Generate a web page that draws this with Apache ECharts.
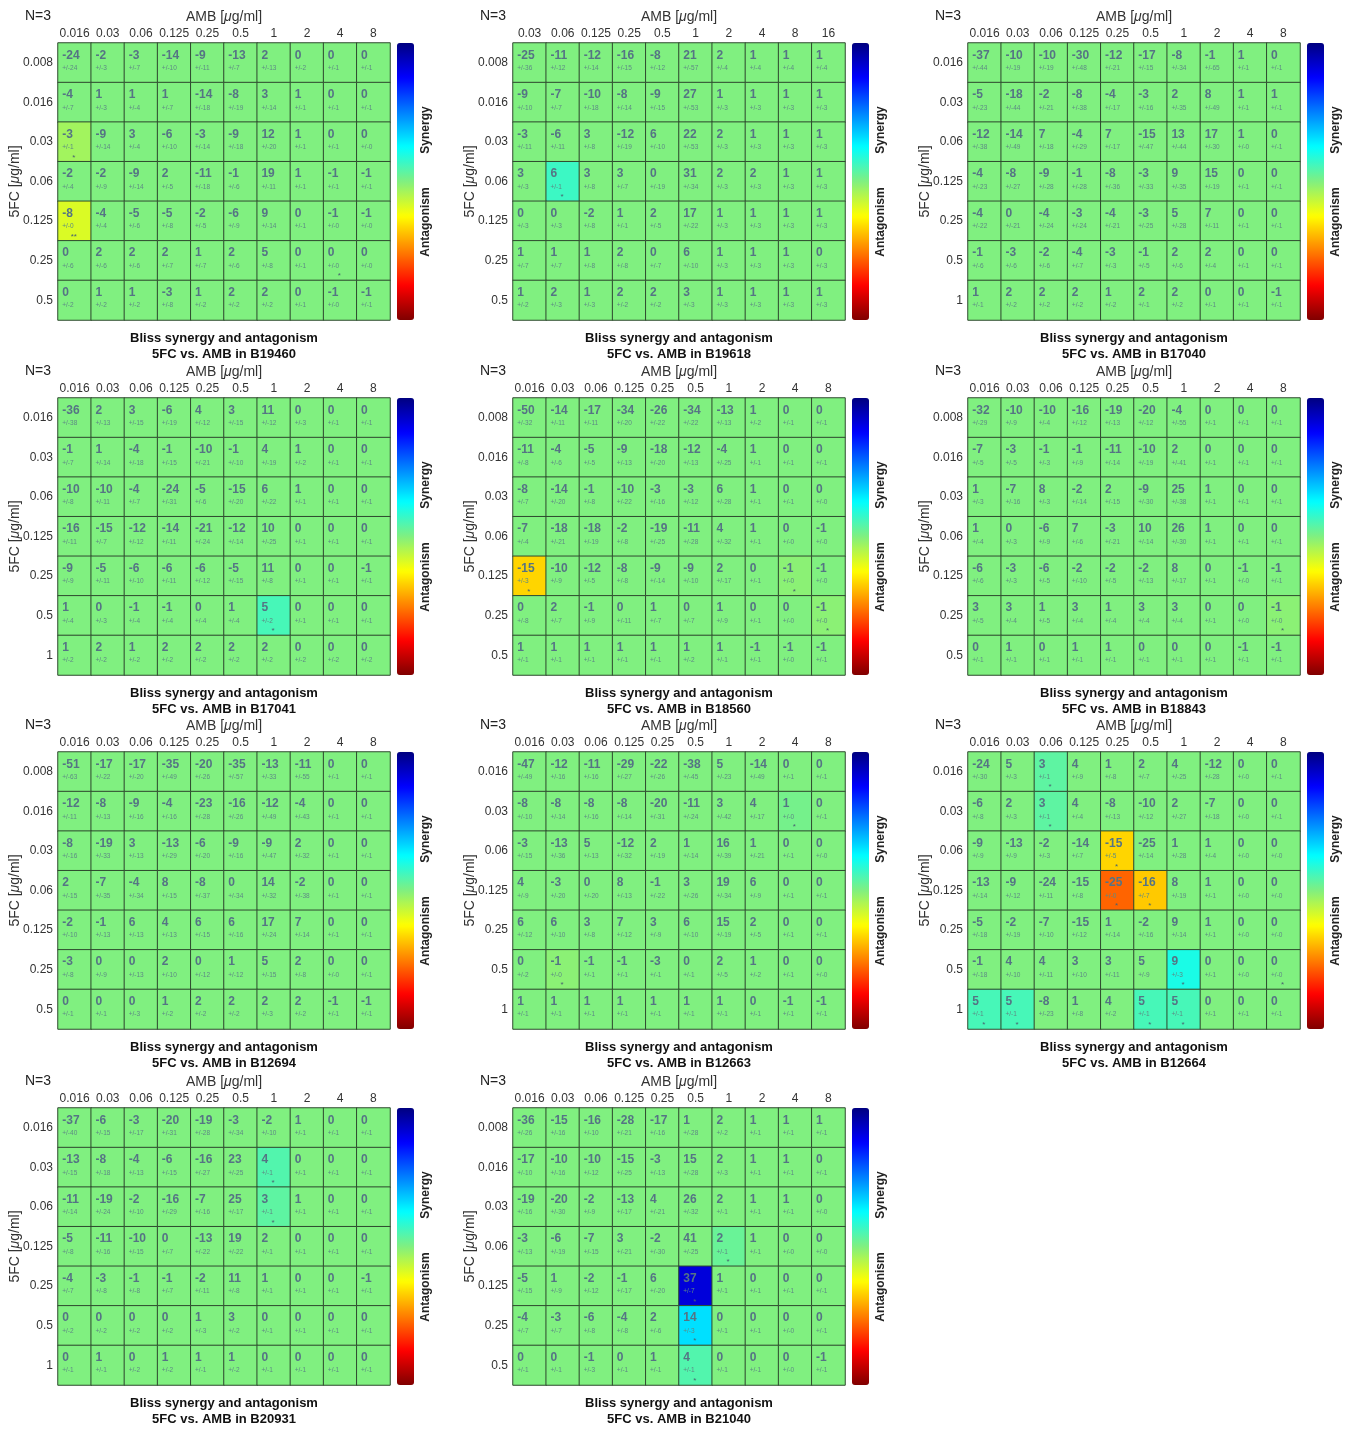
<!DOCTYPE html>
<html>
<head>
<meta charset="utf-8">
<script src="https://cdn.jsdelivr.net/npm/echarts@6/dist/echarts.min.js"></script>
<style>
  html, body { margin: 0; background: #fff; }
  #main { width: 1351px; height: 1429px; }
</style>
</head>
<body>
<div id="main"></div>
<script>
// tick labels
const ambA = ['0.016', '0.03', '0.06', '0.125', '0.25', '0.5', '1', '2', '4', '8'];
const ambB = ['0.03', '0.06', '0.125', '0.25', '0.5', '1', '2', '4', '8', '16'];
const fcA = ['0.008', '0.016', '0.03', '0.06', '0.125', '0.25', '0.5'];
const fcB = ['0.016', '0.03', '0.06', '0.125', '0.25', '0.5', '1'];

// Bliss values (rows = 5FC, cols = AMB), standard deviations, significant cells [row, col, mark]
const valB19460 = [
  [-24, -2, -3, -14, -9, -13, 2, 0, 0, 0],
  [-4, 1, 1, 1, -14, -8, 3, 1, 0, 0],
  [-3, -9, 3, -6, -3, -9, 12, 1, 0, 0],
  [-2, -2, -9, 2, -11, -1, 19, 1, -1, -1],
  [-8, -4, -5, -5, -2, -6, 9, 0, -1, -1],
  [0, 2, 2, 2, 1, 2, 5, 0, 0, 0],
  [0, 1, 1, -3, 1, 2, 2, 0, -1, -1]
];
const stdB19460 = [
  [24, 3, 7, 10, 11, 7, 13, 2, 1, 1],
  [7, 3, 4, 7, 18, 19, 14, 1, 1, 1],
  [1, 14, 4, 10, 14, 18, 20, 1, 1, 0],
  [4, 9, 14, 5, 18, 6, 11, 1, 1, 1],
  [0, 4, 6, 8, 5, 9, 14, 1, 0, 0],
  [6, 6, 6, 7, 7, 6, 8, 1, 0, 0],
  [2, 2, 2, 8, 2, 2, 2, 1, 0, 1]
];
const sigB19460 = [[2, 0, '*'], [4, 0, '**'], [5, 8, '*']];

const valB19618 = [
  [-25, -11, -12, -16, -8, 21, 2, 1, 1, 1],
  [-9, -7, -10, -8, -9, 27, 1, 1, 1, 1],
  [-3, -6, 3, -12, 6, 22, 2, 1, 1, 1],
  [3, 6, 3, 3, 0, 31, 2, 2, 1, 1],
  [0, 0, -2, 1, 2, 17, 1, 1, 1, 1],
  [1, 1, 1, 2, 0, 6, 1, 1, 1, 0],
  [1, 2, 1, 2, 2, 3, 1, 1, 1, 1]
];
const stdB19618 = [
  [36, 12, 14, 15, 12, 57, 4, 4, 4, 4],
  [10, 7, 18, 14, 15, 53, 3, 3, 3, 3],
  [11, 11, 8, 19, 10, 53, 3, 3, 3, 3],
  [3, 1, 8, 7, 19, 34, 3, 3, 3, 3],
  [3, 3, 8, 1, 5, 22, 3, 3, 3, 3],
  [7, 7, 8, 8, 7, 10, 3, 3, 3, 3],
  [2, 3, 3, 2, 2, 3, 3, 3, 3, 3]
];
const sigB19618 = [[3, 1, '*']];

const valB17040 = [
  [-37, -10, -10, -30, -12, -17, -8, -1, 1, 0],
  [-5, -18, -2, -8, -4, -3, 2, 8, 1, 1],
  [-12, -14, 7, -4, 7, -15, 13, 17, 1, 0],
  [-4, -8, -9, -1, -8, -3, 9, 15, 0, 0],
  [-4, 0, -4, -3, -4, -3, 5, 7, 0, 0],
  [-1, -3, -2, -4, -3, -1, 2, 2, 0, 0],
  [1, 2, 2, 2, 1, 2, 2, 0, 0, -1]
];
const stdB17040 = [
  [44, 19, 19, 48, 21, 15, 34, 65, 1, 1],
  [23, 44, 21, 38, 17, 16, 35, 49, 1, 1],
  [38, 49, 18, 29, 17, 47, 44, 30, 0, 1],
  [23, 27, 28, 28, 36, 33, 35, 19, 1, 1],
  [22, 21, 24, 24, 21, 25, 28, 11, 1, 1],
  [6, 6, 6, 7, 3, 5, 6, 4, 1, 1],
  [1, 2, 2, 2, 2, 1, 2, 1, 1, 1]
];
const sigB17040 = [];

const valB17041 = [
  [-36, 2, 3, -6, 4, 3, 11, 0, 0, 0],
  [-1, 1, -4, -1, -10, -1, 4, 1, 0, 0],
  [-10, -10, -4, -24, -5, -15, 6, 1, 0, 0],
  [-16, -15, -12, -14, -21, -12, 10, 0, 0, 0],
  [-9, -5, -6, -6, -6, -5, 11, 0, 0, -1],
  [1, 0, -1, -1, 0, 1, 5, 0, 0, 0],
  [1, 2, 1, 2, 2, 2, 2, 0, 0, 0]
];
const stdB17041 = [
  [38, 13, 15, 19, 12, 15, 12, 3, 1, 1],
  [7, 14, 18, 15, 21, 10, 19, 2, 1, 1],
  [8, 11, 7, 31, 6, 20, 22, 1, 1, 1],
  [11, 7, 12, 11, 24, 14, 25, 1, 1, 1],
  [9, 11, 10, 11, 12, 15, 8, 1, 1, 1],
  [4, 3, 4, 4, 4, 4, 2, 1, 1, 1],
  [2, 2, 2, 2, 2, 2, 2, 2, 2, 2]
];
const sigB17041 = [[5, 6, '*']];

const valB18560 = [
  [-50, -14, -17, -34, -26, -34, -13, 1, 0, 0],
  [-11, -4, -5, -9, -18, -12, -4, 1, 0, 0],
  [-8, -14, -1, -10, -3, -3, 6, 1, 0, 0],
  [-7, -18, -18, -2, -19, -11, 4, 1, 0, -1],
  [-15, -10, -12, -8, -9, -9, 2, 0, -1, -1],
  [0, 2, -1, 0, 1, 0, 1, 0, 0, -1],
  [1, 1, 1, 1, 1, 1, 1, -1, -1, -1]
];
const stdB18560 = [
  [32, 11, 11, 20, 22, 22, 13, 2, 1, 1],
  [8, 6, 5, 13, 20, 13, 25, 1, 1, 1],
  [7, 20, 8, 22, 16, 12, 28, 1, 1, 0],
  [4, 21, 19, 8, 25, 28, 32, 1, 0, 0],
  [3, 9, 5, 8, 14, 10, 17, 1, 0, 0],
  [8, 7, 9, 11, 7, 7, 9, 1, 0, 0],
  [1, 1, 1, 1, 1, 2, 1, 1, 0, 1]
];
const sigB18560 = [[4, 0, '*'], [4, 8, '*'], [5, 9, '*']];

const valB18843 = [
  [-32, -10, -10, -16, -19, -20, -4, 0, 0, 0],
  [-7, -3, -1, -1, -11, -10, 2, 0, 0, 0],
  [1, -7, 8, -2, 2, -9, 25, 1, 0, 0],
  [1, 0, -6, 7, -3, 10, 26, 1, 0, 0],
  [-6, -3, -6, -2, -2, -2, 8, 0, -1, -1],
  [3, 3, 1, 3, 1, 3, 3, 0, 0, -1],
  [0, 1, 0, 1, 1, 0, 0, 0, -1, -1]
];
const stdB18843 = [
  [29, 9, 4, 12, 13, 12, 55, 1, 1, 1],
  [5, 5, 3, 9, 14, 19, 41, 1, 1, 1],
  [3, 16, 3, 14, 15, 30, 38, 1, 1, 1],
  [4, 3, 9, 6, 21, 14, 30, 1, 1, 1],
  [6, 3, 5, 10, 5, 13, 17, 1, 0, 1],
  [5, 4, 5, 4, 4, 4, 4, 1, 0, 0],
  [1, 1, 1, 1, 1, 1, 1, 1, 1, 1]
];
const sigB18843 = [[5, 9, '*']];

const valB12694 = [
  [-51, -17, -17, -35, -20, -35, -13, -11, 0, 0],
  [-12, -8, -9, -4, -23, -16, -12, -4, 0, 0],
  [-8, -19, 3, -13, -6, -9, -9, 2, 0, 0],
  [2, -7, -4, 8, -8, 0, 14, -2, 0, 0],
  [-2, -1, 6, 4, 6, 6, 17, 7, 0, 0],
  [-3, 0, 0, 2, 0, 1, 5, 2, 0, 0],
  [0, 0, 0, 1, 2, 2, 2, 2, -1, -1]
];
const stdB12694 = [
  [63, 22, 20, 49, 26, 57, 33, 55, 1, 1],
  [11, 13, 16, 16, 28, 26, 49, 43, 1, 1],
  [16, 33, 13, 29, 20, 16, 47, 32, 1, 1],
  [15, 35, 34, 15, 37, 34, 32, 38, 1, 1],
  [10, 13, 13, 13, 15, 16, 24, 14, 1, 1],
  [8, 9, 13, 10, 12, 12, 15, 8, 0, 1],
  [1, 1, 3, 2, 2, 2, 3, 2, 1, 1]
];
const sigB12694 = [];

const valB12663 = [
  [-47, -12, -11, -29, -22, -38, 5, -14, 0, 0],
  [-8, -8, -8, -8, -20, -11, 3, 4, 1, 0],
  [-3, -13, 5, -12, 2, 1, 16, 1, 0, 0],
  [4, -3, 0, 8, -1, 3, 19, 6, 0, 0],
  [6, 6, 3, 7, 3, 6, 15, 2, 0, 0],
  [0, -1, -1, -1, -3, 0, 2, 1, 0, 0],
  [1, 1, 1, 1, 1, 1, 1, 0, -1, -1]
];
const stdB12663 = [
  [49, 16, 16, 27, 26, 45, 23, 49, 1, 1],
  [10, 14, 16, 14, 31, 24, 42, 17, 0, 1],
  [15, 36, 13, 32, 19, 14, 39, 21, 1, 0],
  [9, 20, 20, 13, 22, 26, 34, 9, 1, 1],
  [12, 10, 8, 12, 9, 10, 19, 5, 1, 1],
  [2, 0, 1, 1, 1, 1, 5, 2, 1, 0],
  [1, 1, 1, 1, 1, 1, 1, 1, 1, 1]
];
const sigB12663 = [[1, 8, '*'], [5, 1, '*']];

const valB12664 = [
  [-24, 5, 3, 4, 1, 2, 4, -12, 0, 0],
  [-6, 2, 3, 4, -8, -10, 2, -7, 0, 0],
  [-9, -13, -2, -14, -15, -25, 1, 1, 0, 0],
  [-13, -9, -24, -15, -25, -16, 8, 1, 0, 0],
  [-5, -2, -7, -15, 1, -2, 9, 1, 0, 0],
  [-1, 4, 4, 3, 3, 5, 9, 0, 0, 0],
  [5, 5, -8, 1, 4, 5, 5, 0, 0, 0]
];
const stdB12664 = [
  [30, 3, 1, 9, 8, 7, 25, 28, 0, 1],
  [8, 3, 1, 4, 13, 12, 27, 18, 0, 1],
  [9, 9, 3, 7, 5, 14, 28, 4, 0, 0],
  [14, 12, 11, 8, 0, 7, 19, 1, 0, 0],
  [18, 19, 10, 12, 14, 16, 14, 1, 0, 0],
  [18, 10, 11, 10, 11, 9, 3, 1, 0, 0],
  [1, 1, 23, 8, 2, 1, 1, 1, 1, 1]
];
const sigB12664 = [[0, 2, '*'], [1, 2, '*'], [2, 4, '*'], [3, 4, '*'], [3, 5, '*'],
  [5, 6, '*'], [5, 9, '*'], [6, 0, '*'], [6, 1, '*'], [6, 5, '*'], [6, 6, '*']];

const valB20931 = [
  [-37, -6, -3, -20, -19, -3, -2, 1, 0, 0],
  [-13, -8, -4, -6, -16, 23, 4, 0, 0, 0],
  [-11, -19, -2, -16, -7, 25, 3, 1, 0, 0],
  [-5, -11, -10, 0, -13, 19, 2, 0, 0, 0],
  [-4, -3, -1, -1, -2, 11, 1, 0, 0, -1],
  [0, 0, 0, 0, 1, 3, 0, 0, 0, 0],
  [0, 1, 0, 1, 1, 1, 0, 0, 0, 0]
];
const stdB20931 = [
  [40, 15, 17, 31, 28, 34, 10, 1, 1, 1],
  [15, 18, 13, 15, 27, 25, 1, 1, 1, 1],
  [14, 24, 10, 29, 16, 17, 1, 1, 1, 1],
  [8, 16, 15, 7, 22, 22, 1, 1, 1, 1],
  [7, 8, 8, 7, 11, 8, 1, 1, 1, 1],
  [2, 2, 2, 2, 3, 2, 1, 1, 1, 1],
  [1, 1, 2, 2, 1, 2, 1, 1, 1, 1]
];
const sigB20931 = [[1, 6, '*'], [2, 6, '*']];

const valB21040 = [
  [-36, -15, -16, -28, -17, 1, 2, 1, 1, 1],
  [-17, -10, -10, -15, -3, 15, 2, 1, 1, 0],
  [-19, -20, -2, -13, 4, 26, 2, 1, 1, 0],
  [-3, -6, -7, 3, -2, 41, 2, 1, 0, 0],
  [-5, 1, -2, -1, 6, 37, 1, 0, 0, 0],
  [-4, -3, -6, -4, 2, 14, 0, 0, 0, 0],
  [0, 0, -1, 0, 1, 4, 0, 0, 0, -1]
];
const stdB21040 = [
  [26, 16, 10, 21, 16, 28, 2, 1, 1, 1],
  [10, 16, 12, 25, 13, 28, 3, 1, 1, 1],
  [16, 30, 9, 17, 21, 32, 1, 1, 1, 0],
  [13, 19, 15, 21, 30, 25, 1, 1, 0, 0],
  [15, 9, 12, 17, 20, 7, 1, 1, 1, 1],
  [7, 7, 8, 8, 6, 3, 1, 1, 0, 1],
  [1, 1, 3, 1, 1, 1, 1, 1, 0, 1]
];
const sigB21040 = [[3, 6, '*'], [4, 5, '*'], [5, 5, '*'], [6, 5, '*']];

const panels = [
  {strain: 'B19460', amb: ambA, fc: fcA, val: valB19460, std: stdB19460, sig: sigB19460},
  {strain: 'B19618', amb: ambB, fc: fcA, val: valB19618, std: stdB19618, sig: sigB19618},
  {strain: 'B17040', amb: ambA, fc: fcB, val: valB17040, std: stdB17040, sig: sigB17040},
  {strain: 'B17041', amb: ambA, fc: fcB, val: valB17041, std: stdB17041, sig: sigB17041},
  {strain: 'B18560', amb: ambA, fc: fcA, val: valB18560, std: stdB18560, sig: sigB18560},
  {strain: 'B18843', amb: ambA, fc: fcA, val: valB18843, std: stdB18843, sig: sigB18843},
  {strain: 'B12694', amb: ambA, fc: fcA, val: valB12694, std: stdB12694, sig: sigB12694},
  {strain: 'B12663', amb: ambA, fc: fcB, val: valB12663, std: stdB12663, sig: sigB12663},
  {strain: 'B12664', amb: ambA, fc: fcB, val: valB12664, std: stdB12664, sig: sigB12664},
  {strain: 'B20931', amb: ambA, fc: fcB, val: valB20931, std: stdB20931, sig: sigB20931},
  {strain: 'B21040', amb: ambA, fc: fcA, val: valB21040, std: stdB21040, sig: sigB21040}
];

// layout
const colLeft = [58, 513, 968];
const rowTop = [43, 398, 752, 1108];
const gw = 332, gh = 277;
const font = 'Arial, "Liberation Sans", sans-serif';
const jet = ['#800000', '#ff0000', '#ff8000', '#ffff00', '#80f080', '#00ffff', '#0080ff', '#0000ff', '#000080'];

const chart = echarts.init(document.getElementById('main'));

const grid = [], xAxis = [], yAxis = [], series = [], visualMap = [], graphic = [];

panels.forEach((p, i) => {
  const left = colLeft[i % 3], top = rowTop[Math.floor(i / 3)];
  const cx = left + gw / 2;

  // only significant cells get coloured, the rest sit on 0
  const marks = {};
  p.sig.forEach(s => { marks[s[0] + '_' + s[1]] = s[2]; });
  const data = [];
  p.val.forEach((row, r) => {
    row.forEach((v, c) => {
      const m = marks[r + '_' + c] || '';
      data.push([c, r, m ? v : 0, v, p.std[r][c], m]);
    });
  });

  grid.push({left: left, top: top, width: gw, height: gh});
  xAxis.push({
    type: 'category', gridIndex: i, position: 'top', data: p.amb,
    axisLine: {show: false}, axisTick: {show: false}, splitLine: {show: false},
    axisLabel: {margin: 3, fontSize: 12, color: '#333', fontFamily: font, interval: 0},
    name: 'AMB [{i|μ}g/ml]', nameLocation: 'middle', nameGap: 19,
    nameTextStyle: {fontSize: 14, color: '#333', fontFamily: font,
      rich: {i: {fontSize: 14, fontStyle: 'italic', color: '#333', fontFamily: font}}}
  });
  yAxis.push({
    type: 'category', gridIndex: i, inverse: true, data: p.fc,
    axisLine: {show: false}, axisTick: {show: false}, splitLine: {show: false},
    axisLabel: {margin: 5, fontSize: 12, color: '#333', fontFamily: font, interval: 0},
    name: '5FC [{i|μ}g/ml]', nameLocation: 'middle', nameGap: 36, nameRotate: 90,
    nameMoveOverlap: false,
    nameTextStyle: {fontSize: 14, color: '#333', fontFamily: font,
      rich: {i: {fontSize: 14, fontStyle: 'italic', color: '#333', fontFamily: font}}}
  });
  series.push({
    type: 'heatmap', xAxisIndex: i, yAxisIndex: i, data: data,
    itemStyle: {borderColor: '#2f4a2f', borderWidth: 1},
    emphasis: {disabled: true},
    label: {
      show: true, position: 'insideTopLeft', distance: 5,
      formatter: prm => '{v|' + prm.data[3] + '}\n{s|+/-' + prm.data[4] + '}\n{k|' + (prm.data[5] || ' ') + '}',
      rich: {
        v: {fontSize: 12, fontWeight: 'bold', color: '#557484', lineHeight: 16, fontFamily: font},
        s: {fontSize: 6.5, color: '#5d8a84', lineHeight: 10, fontFamily: font},
        k: {fontSize: 8, color: '#4a6470', lineHeight: 10, width: 23, align: 'center', fontFamily: font}
      }
    }
  });
  visualMap.push({
    type: 'continuous', seriesIndex: i, dimension: 2, min: -45, max: 45,
    left: left + gw + 7, top: top, itemWidth: 17, itemHeight: gh, padding: 0,
    calculable: false, hoverLink: false, text: null, showLabel: false,
    inRange: {color: jet}
  });

  graphic.push(
    {type: 'text', x: left - 33, y: top - 27,
      style: {text: 'N=3', font: '14px ' + font, fill: '#222', align: 'left', verticalAlign: 'middle'}},
    {type: 'text', x: left + gw + 36, y: top + 87, rotation: Math.PI / 2,
      style: {text: 'Synergy', font: 'bold 12px ' + font, fill: '#222', align: 'center', verticalAlign: 'middle'}},
    {type: 'text', x: left + gw + 36, y: top + 179, rotation: Math.PI / 2,
      style: {text: 'Antagonism', font: 'bold 12px ' + font, fill: '#222', align: 'center', verticalAlign: 'middle'}},
    {type: 'text', x: cx, y: top + gh + 18,
      style: {text: 'Bliss synergy and antagonism', font: 'bold 13px ' + font, fill: '#111', align: 'center', verticalAlign: 'middle'}},
    {type: 'text', x: cx, y: top + gh + 34,
      style: {text: '5FC vs. AMB in ' + p.strain, font: 'bold 13px ' + font, fill: '#111', align: 'center', verticalAlign: 'middle'}}
  );
});

chart.setOption({
  animation: false,
  backgroundColor: '#fff',
  grid: grid, xAxis: xAxis, yAxis: yAxis,
  visualMap: visualMap, series: series, graphic: graphic
});
</script>
</body>
</html>
